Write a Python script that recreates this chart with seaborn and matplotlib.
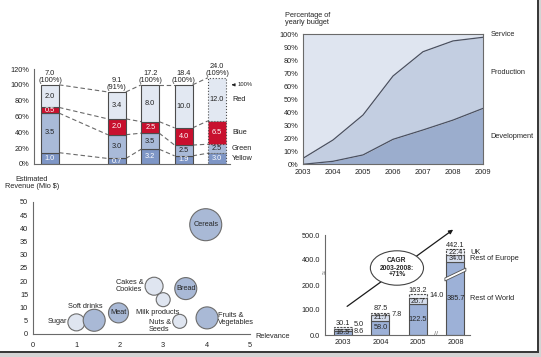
import numpy as np
import pandas as pd
import matplotlib
matplotlib.use('Agg')
import matplotlib.pyplot as plt
from matplotlib.patches import Rectangle
import seaborn as sns

# top left - stacked bars (values, share of 100%)
bar_pos = [0, 2, 3, 4, 5]
bar_totals = [7.0, 9.1, 17.2, 18.4, 24.0]
bar_pct = [100, 91, 100, 100, 109]
seg_names = ['Yellow', 'Green', 'Blue', 'Red']
yellow = [1.0, 0.7, 3.2, 1.9, 3.0]
green = [3.5, 3.0, 3.5, 2.5, 2.5]
blue = [0.5, 2.0, 2.5, 4.0, 6.5]
red = [2.0, 3.4, 8.0, 10.0, 12.0]

# top right - share of yearly budget
years = [2003, 2004, 2005, 2006, 2007, 2008, 2009]
dev_share = [0, 2.3, 7.2, 19.2, 26.4, 34.0, 43.0]
dev_prod_share = [4.6, 18.7, 37.9, 67.9, 86.6, 94.9, 97.7]

# bottom left - bubbles
products = ['Sugar', 'Soft drinks', 'Meat', 'Cakes &\nCookies', 'Milk products',
            'Bread', 'Nuts &\nSeeds', 'Fruits &\nVegetables', 'Cereals']
relevance = [1.0, 1.41, 1.97, 2.79, 3.0, 3.52, 3.38, 4.01, 3.98]
revenue = [4.4, 5.2, 8.0, 18.1, 13.0, 17.2, 4.8, 6.1, 41.4]
bubble_diam = [17, 22, 20, 18, 14, 22, 14, 22, 32]
bubble_group = ['light', 'dark', 'dark', 'light', 'light', 'dark', 'light', 'dark', 'dark']

# bottom right - revenue by region
rev_years = ['2003', '2004', '2005', '2008']
rest_world = [16.5, 58.0, 122.5, 385.7]
rest_europe = [8.6, 21.7, 26.7, 34.0]
uk = [5.0, 7.8, 14.0, 22.4]
rev_totals = [30.1, 87.5, 163.2, 442.1]

sns.set_style('white')
plt.rcParams['font.family'] = ['Liberation Sans', 'DejaVu Sans']
plt.rcParams['font.size'] = 5.5

W, H = 541, 357
fig = plt.figure(figsize=(W / 100, H / 100), dpi=100)
grey = '#6a6a6a'
fs = 5.3


def style_axis(ax, spines=('left', 'bottom')):
    for s in ['left', 'right', 'top', 'bottom']:
        ax.spines[s].set_visible(s in spines)
        ax.spines[s].set_color(grey)
        ax.spines[s].set_linewidth(0.8)
    ax.tick_params(axis='both', labelsize=fs, length=2, width=0.6, color=grey, pad=1.5,
                   labelcolor='#222')


# ---------------- panel 1
ax1 = fig.add_axes([34 / W, 1 - 164 / H, 196 / W, 95 / H])
seg_vals = [yellow, green, blue, red]
seg_cols = ['#7e96c6', '#a9bad8', '#c8102e', '#e2e8f2']
txt_cols = ['white', '#222', 'white', '#222']
w1 = 0.54
tot = np.array(bar_totals)
pct = np.array(bar_pct)
bottom = np.zeros(5)
tops = []
centers = []
for k in range(4):
    h = np.array(seg_vals[k]) / tot * pct
    ax1.bar(bar_pos[:4], h[:4], w1, bottom=bottom[:4], color=seg_cols[k],
            edgecolor='#4c4c4c', linewidth=0.8, zorder=2)
    ax1.bar(bar_pos[4], h[4], w1, bottom=bottom[4], color=seg_cols[k],
            edgecolor='#4c4c4c', linewidth=0.8, linestyle=':', zorder=2)
    for i in range(5):
        ax1.text(bar_pos[i], bottom[i] + h[i] / 2, f'{seg_vals[k][i]:.1f}', ha='center',
                 va='center', fontsize=fs, color=txt_cols[k], zorder=4)
    centers.append(bottom + h / 2)
    bottom = bottom + h
    tops.append(bottom.copy())

for k in range(4):
    for i in range(4):
        ax1.plot([bar_pos[i] + w1 / 2, bar_pos[i + 1] - w1 / 2], [tops[k][i], tops[k][i + 1]],
                 color='#6a6a6a', lw=0.8, ls=(0, (4, 2.5)), zorder=1)

for i in range(5):
    ax1.text(bar_pos[i], tops[3][i] + 1, f'{bar_totals[i]:.1f}\n({bar_pct[i]}%)',
             ha='center', va='bottom', fontsize=fs, linespacing=1.0, color='#222')

for k in range(4):
    ax1.text(5.45, centers[k][4], seg_names[k], ha='left', va='center', fontsize=fs, color='#222')
ax1.annotate('', xy=(5.36, 100), xytext=(5.58, 100),
             arrowprops=dict(arrowstyle='-|>', color='#222', lw=0.7, mutation_scale=4),
             annotation_clip=False)
ax1.text(5.62, 100, '100%', ha='left', va='center', fontsize=4.2, color='#222')

ax1.set_xlim(-0.48, 5.39)
ax1.set_ylim(0, 120)
ax1.set_yticks(range(0, 121, 20))
ax1.set_yticklabels([f'{t}%' for t in range(0, 121, 20)])
ax1.set_xticks([])
style_axis(ax1)

# ---------------- panel 2
ax2 = fig.add_axes([303 / W, 1 - 164.3 / H, 180 / W, 130 / H])
service_top = [100] * len(years)
ax2.fill_between(years, 0, dev_share, color='#9badcd', lw=0)
ax2.fill_between(years, dev_share, dev_prod_share, color='#c3cee1', lw=0)
ax2.fill_between(years, dev_prod_share, service_top, color='#dfe5f0', lw=0)
sns.lineplot(x=years, y=dev_share, ax=ax2, color='#4a5060', lw=0.9)
sns.lineplot(x=years, y=dev_prod_share, ax=ax2, color='#4a5060', lw=0.9)
ax2.set_xlim(2003, 2009)
ax2.set_ylim(0, 100)
ax2.set_yticks(range(0, 101, 10))
ax2.set_yticklabels([f'{t}%' for t in range(0, 101, 10)])
ax2.set_xticks(years)
ax2.set_xticklabels([str(y) for y in years])
style_axis(ax2, spines=('left', 'bottom', 'top', 'right'))
ax2.text(2009.25, 99.5, 'Service', ha='left', va='center', fontsize=fs)
ax2.text(2009.25, (dev_share[-1] + dev_prod_share[-1]) / 2, 'Production', ha='left', va='center', fontsize=fs)
ax2.text(2009.25, dev_share[-1] / 2, 'Development', ha='left', va='center', fontsize=fs)
fig.text(285 / W, 1 - 12 / H, 'Percentage of\nyearly budget', ha='left', va='top',
         fontsize=fs, linespacing=1.0)

# ---------------- panel 3
ax3 = fig.add_axes([33 / W, 1 - 334 / H, 217 / W, 132 / H])
bub = pd.DataFrame({'product': products, 'relevance': relevance, 'revenue': revenue,
                    'diam': bubble_diam, 'group': bubble_group})
bub['area'] = (bub['diam'] * 0.72) ** 2
amin, amax = bub['area'].min(), bub['area'].max()
sns.scatterplot(data=bub, x='relevance', y='revenue', size='area', sizes=(amin, amax),
                size_norm=(amin, amax), hue='group',
                palette={'light': '#dfe5f0', 'dark': '#a9b9d6'},
                edgecolor='#6c6c6c', linewidth=0.8, legend=False, ax=ax3, zorder=3, clip_on=False)
label_pos = {
    'Sugar': (-0.22, 0.3, 'right'), 'Soft drinks': (-0.2, 5.1, 'center'), 'Meat': (0, 0, 'center'),
    'Cakes &\nCookies': (-0.25, 0, 'right'), 'Milk products': (-0.12, -4.8, 'center'),
    'Bread': (0, 0, 'center'), 'Nuts &\nSeeds': (-0.2, -1.7, 'right'),
    'Fruits &\nVegetables': (0.26, -0.4, 'left'), 'Cereals': (0, 0, 'center')}
for _, r in bub.iterrows():
    dx, dy, ha = label_pos[r['product']]
    ax3.text(r['relevance'] + dx, r['revenue'] + dy, r['product'], ha=ha, va='center',
             fontsize=fs, linespacing=1.05, zorder=5, multialignment='left')
ax3.set_xlim(0, 5)
ax3.set_ylim(0, 50)
ax3.set_xticks(range(0, 6))
ax3.set_yticks(range(0, 51, 5))
ax3.set_xlabel('')
ax3.set_ylabel('')
style_axis(ax3)
ax3.tick_params(axis='x', pad=4)
fig.text(255 / W, 1 - 336 / H, 'Relevance', ha='left', va='center', fontsize=fs)
fig.text(32 / W, 1 - 176 / H, 'Estimated\nRevenue (Mio \\$)', ha='center', va='top',
         fontsize=fs, linespacing=1.0)

# ---------------- panel 4
def fwd(v):
    v = np.asarray(v, float)
    return np.where(v <= 200, v, np.where(v <= 400, 200 + (v - 200) * 0.5, v - 100))


def inv(p):
    p = np.asarray(p, float)
    return np.where(p <= 200, p, np.where(p <= 300, 200 + (p - 200) * 2, p + 100))


ax4 = fig.add_axes([325 / W, 1 - 335 / H, 145 / W, 100 / H])
ax4.set_yscale('function', functions=(fwd, inv))
x4 = np.arange(len(rev_years))
w4 = 0.48
rw = np.array(rest_world)
re = np.array(rest_europe)
ukv = np.array(uk)
ax4.bar(x4, rw, w4, color='#9db1d7', edgecolor='#505050', lw=0.8, zorder=2)
ax4.bar(x4, re, w4, bottom=rw, color='#d4dcec', edgecolor='#505050', lw=0.8, zorder=2)
ax4.bar(x4, ukv, w4, bottom=rw + re, color='#f0f3f9', edgecolor='#505050', lw=0.8,
        linestyle=(0, (2, 1)), zorder=2)


def mid(a, b):
    return float(inv((fwd(a) + fwd(b)) / 2))


for i in range(len(x4)):
    ax4.annotate(f'{rev_totals[i]:.1f}', (x4[i], rev_totals[i]), xytext=(0, 0.5),
                 textcoords='offset points', ha='center', va='bottom', fontsize=fs)
    ax4.text(x4[i], mid(0, rw[i]) if i > 0 else 10, f'{rw[i]:.1f}', ha='center', va='center',
             fontsize=fs, zorder=4)
    if i == 0:
        ax4.annotate(f'{re[i]:.1f}', (x4[i] + w4 / 2, 14), xytext=(1.5, 0),
                     textcoords='offset points', ha='left', va='center', fontsize=fs)
        ax4.annotate(f'{ukv[i]:.1f}', (x4[i] + w4 / 2, 44), xytext=(1.5, 0),
                     textcoords='offset points', ha='left', va='center', fontsize=fs)
    else:
        ax4.text(x4[i], mid(rw[i], rw[i] + re[i]), f'{re[i]:.1f}', ha='center', va='center',
                 fontsize=fs, zorder=4)
        if i < 3:
            ax4.annotate(f'{ukv[i]:.1f}', (x4[i] + w4 / 2, mid(rw[i] + re[i], rev_totals[i])),
                         xytext=(1.5, 0), textcoords='offset points', ha='left', va='center',
                         fontsize=fs)
        else:
            ax4.text(x4[i], mid(rw[i] + re[i], rev_totals[i]), f'{ukv[i]:.1f}', ha='center',
                     va='center', fontsize=fs, zorder=4)

# break on the 2008 bar
ax4.fill([2.72, 3.28, 3.28, 2.72], [232, 312, 336, 256], color='white', ec='#505050',
         lw=0.6, zorder=3)
side_x = 3.39
ax4.text(side_x, mid(rw[3] + re[3], rev_totals[3]), 'UK', ha='left', va='center', fontsize=fs)
ax4.text(side_x, mid(rw[3], rw[3] + re[3]), 'Rest of Europe', ha='left', va='center', fontsize=fs)
ax4.text(side_x, mid(0, rw[3]), 'Rest of World', ha='left', va='center', fontsize=fs)

ax4.annotate('', xy=(3.0, 528), xytext=(0.05, 108),
             arrowprops=dict(arrowstyle='-|>', color='#1a1a1a', lw=0.9, mutation_scale=6),
             annotation_clip=False)
ax4.text(1.44, 336, 'CAGR\n2003-2008:\n+71%', ha='center', va='center', fontsize=4.8,
         fontweight='bold', linespacing=1.0, zorder=6,
         bbox=dict(boxstyle='ellipse,pad=0.25', fc='white', ec='#444444', lw=0.8))
ax4.text(-0.48, 300, '≈', rotation=90, ha='center', va='center', fontsize=5, color=grey)
ax4.text(2.48, 0, '//', ha='center', va='center', fontsize=5, color=grey)

ax4.set_xlim(-0.48, 3.39)
ax4.set_ylim(0, 500)
ax4.set_yticks([0, 100, 200, 400, 500])
ax4.set_yticklabels(['0.0', '100.0', '200.0', '400.0', '500.0'])
ax4.yaxis.set_minor_locator(matplotlib.ticker.NullLocator())
ax4.set_xticks(x4)
ax4.set_xticklabels(rev_years)
style_axis(ax4)
ax4.tick_params(axis='x', length=0, pad=3)

# screenshot frame
fig.add_artist(Rectangle((0, 0), 1, 4.5 / H, transform=fig.transFigure, color='#d4d4d4', lw=0))
fig.add_artist(Rectangle((0, 4.5 / H), 539 / W, 1.6 / H, transform=fig.transFigure,
                         color='#3a3a3a', lw=0))
fig.add_artist(Rectangle((537 / W, 4.5 / H), 2.2 / W, 1, transform=fig.transFigure,
                         color='#3a3a3a', lw=0))
fig.add_artist(Rectangle((539.2 / W, 0), 1.8 / W, 1, transform=fig.transFigure,
                         color='#d4d4d4', lw=0))

fig.savefig('out.png', dpi=100)
